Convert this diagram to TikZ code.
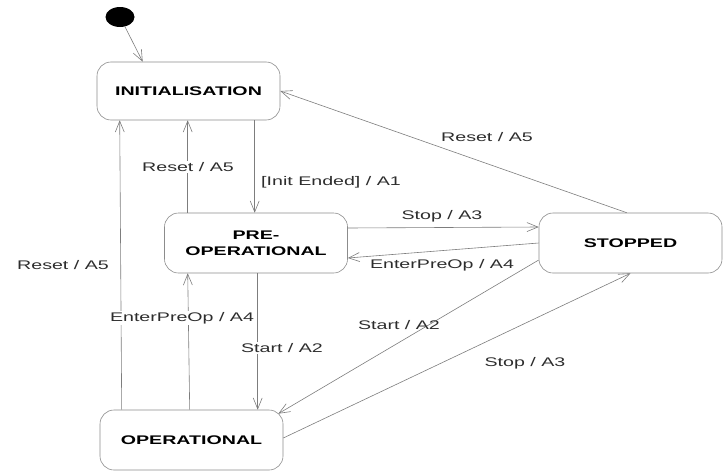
\documentclass[tikz,border=0pt]{standalone}
\usepackage{fontspec}
\setmainfont{Liberation Sans}[FakeStretch=1.57]
\usetikzlibrary{arrows.meta,shapes.geometric}
\definecolor{edgegray}{RGB}{125,125,125}
\definecolor{boxgray}{RGB}{140,140,140}
\definecolor{labelgray}{RGB}{45,45,45}
\begin{document}
\begin{tikzpicture}[x=1pt,y=-1pt,
  state/.style={draw=boxgray,line width=0.6pt,rounded corners=14pt,
    minimum width=183pt,minimum height=60pt,align=center,
    font=\fontsize{12.5}{16}\selectfont\bfseries,text=black},
  tr/.style={draw=edgegray,line width=0.6pt,
    -{Straight Barb[length=11pt,width=9pt,line width=0.6pt]}},
  lbl/.style={font=\fontsize{12.5}{15}\selectfont,text=labelgray,inner sep=1pt},
  lblw/.style={lbl,fill=white}]
\useasboundingbox (0,0) rectangle (725,471);

% initial pseudo-state
\node[fill=black,ellipse,minimum width=29pt,minimum height=20pt,inner sep=0pt] (dot) at (120,17) {};

% states
\node[state,minimum height=58pt] (init) at (188.5,91) {INITIALISATION};
\node[state] (preop) at (256,243) {PRE-\\OPERATIONAL};
\node[state] (stopped) at (630.5,243) {STOPPED};
\node[state] (op) at (191.5,440) {OPERATIONAL};

% transitions
\draw[tr] (dot) -- ([xshift=46pt]init.north west);

\draw[tr] ([xshift=22pt]op.north west) -- ([xshift=23pt]init.south west);
\draw[tr] ([xshift=23.5pt]preop.north west) -- ([xshift=91pt]init.south west);
\draw[tr] ([xshift=158pt]init.south west) -- ([xshift=90.5pt]preop.north west);
\draw[tr] ([xshift=93.5pt]preop.south west) -- ([xshift=158pt]op.north west);
\draw[tr] ([xshift=90pt]op.north west) -- ([xshift=23.5pt]preop.south west);

\draw[tr] ([yshift=15pt]preop.east) -- ([yshift=16pt]stopped.west);
\draw[tr] (stopped.west) -- ([yshift=-15pt]preop.east);
\draw[tr] ([xshift=88pt]stopped.north west) -- (init.east);
\draw[tr] ([yshift=-17pt]stopped.west) -- ([xshift=-5pt,yshift=-4pt]op.north east);
\draw[tr] ([yshift=2pt]op.east) -- (stopped.south);

% transition labels
\node[lbl] (l1) at (63,265) {Reset / A5};
\node[lblw] (l2) at (188,167) {Reset / A5};
\node[lbl] (l3) at (331,182) {[Init Ended] / A1};
\node[lblw] (l4) at (282,348) {Start / A2};
\node[lblw] (l5) at (182,318) {EnterPreOp / A4};
\node[lbl] (l6) at (442,216) {Stop / A3};
\node[lbl] (l7) at (442,265) {EnterPreOp / A4};
\node[lbl] (l8) at (487,137) {Reset / A5};
\node[lbl] (l9) at (399,325) {Start / A2};
\node[lbl] (l10) at (525,363) {Stop / A3};
\end{tikzpicture}
\end{document}
